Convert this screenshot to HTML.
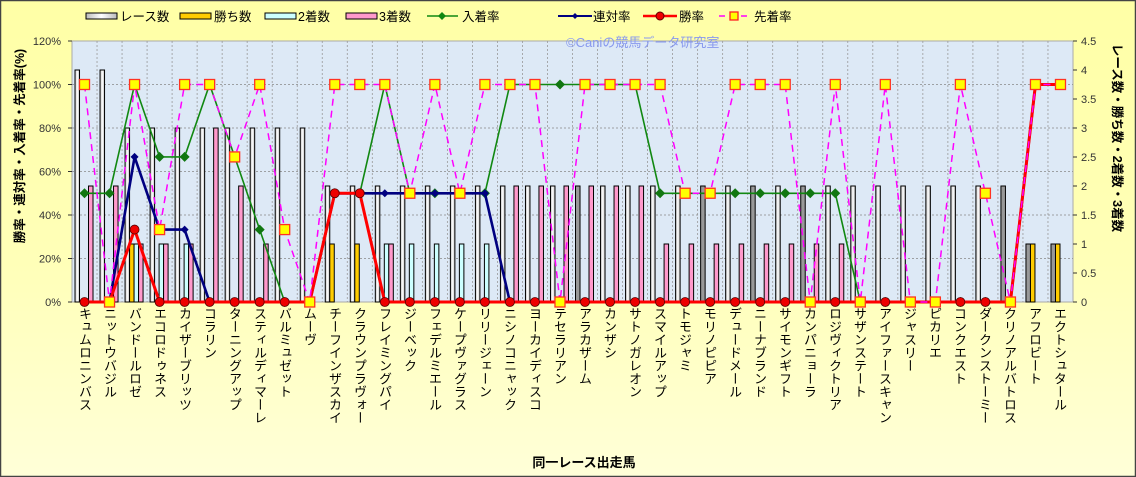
<!DOCTYPE html>
<html><head><meta charset="utf-8">
<style>
html,body{margin:0;padding:0}
body{width:1136px;height:477px;overflow:hidden;font-family:"Liberation Sans","Noto Sans CJK JP",sans-serif}
svg text{font-family:"Liberation Sans","Noto Sans CJK JP",sans-serif}
.xl{position:absolute;top:307px;width:16px;writing-mode:vertical-rl;text-orientation:upright;font-size:13px;line-height:16px;color:#000;font-family:"Liberation Sans","Noto Sans CJK JP",sans-serif}
</style></head>
<body>
<div style="position:relative;width:1136px;height:477px">
<svg id="s" width="1136" height="477" style="position:absolute;left:0;top:0">
<defs>
<linearGradient id="bg" x1="0" y1="0" x2="0" y2="1"><stop offset="0" stop-color="#ffffa6"/><stop offset="0.55" stop-color="#ffffb8"/><stop offset="1" stop-color="#ffffd8"/></linearGradient>
<linearGradient id="rb" x1="0" y1="0" x2="1" y2="0"><stop offset="0" stop-color="#bbb"/><stop offset="0.5" stop-color="#fff"/><stop offset="1" stop-color="#bbb"/></linearGradient>
</defs>
<rect x="0.5" y="0.5" width="1135" height="476" fill="url(#bg)" stroke="#444" stroke-width="1.5"/>
<rect x="72" y="41" width="1001" height="261" fill="#dde9f6" stroke="#aaa"/>
<g id="grid"></g>
<g id="bars"></g>
<g id="lines"></g>
<rect x="86" y="13" width="31" height="6" fill="url(#rb)" stroke="#000"/>
<text x="120" y="21" font-size="12.5">レース数</text>
<rect x="180" y="13" width="31" height="6" fill="#ffcc00" stroke="#000"/>
<text x="214" y="21" font-size="12.5">勝ち数</text>
<rect x="265" y="13" width="31" height="6" fill="#ccffff" stroke="#000"/>
<text x="298" y="21" font-size="12.5">2着数</text>
<rect x="346" y="13" width="31" height="6" fill="#ff99cc" stroke="#000"/>
<text x="379" y="21" font-size="12.5">3着数</text>
<line x1="427" y1="16" x2="458" y2="16" stroke="#118811" stroke-width="1.5"/>
<polygon points="442,12 446,16 442,20 438,16" fill="#118811"/>
<text x="462" y="21" font-size="12.5">入着率</text>
<line x1="558" y1="16" x2="592" y2="16" stroke="#000080" stroke-width="2"/>
<polygon points="575,13 578,16 575,19 572,16" fill="#000080"/>
<text x="593" y="21" font-size="12.5">連対率</text>
<line x1="643" y1="16" x2="677" y2="16" stroke="#ff0000" stroke-width="2.5"/>
<circle cx="660" cy="16" r="4" fill="#ee0000" stroke="#600" stroke-width="1"/>
<text x="679" y="21" font-size="12.5">勝率</text>
<line x1="719" y1="16" x2="752" y2="16" stroke="#ff00ff" stroke-width="1.5" stroke-dasharray="6,5"/>
<rect x="730" y="12" width="8" height="8" fill="#ffff00" stroke="#ff2222" stroke-width="1.3"/>
<text x="754" y="21" font-size="12.5">先着率</text>
<text x="566" y="47" font-size="13" fill="#8899ee">©Caniの競馬データ研究室</text>
<g id="ticks" font-size="11" fill="#333"></g>
<text transform="translate(24,146) rotate(-90)" text-anchor="middle" font-size="12.5" font-weight="bold">勝率・連対率・入着率・先着率(%)</text>
<text transform="translate(1113,138) rotate(90)" text-anchor="middle" font-size="12.5" font-weight="bold">レース数・勝ち数・2着数・3着数</text>
<text x="584" y="467" text-anchor="middle" font-size="13" font-weight="bold">同一レース出走馬</text>
</svg>
<div class="xl" style="left:76px">キュムロニンバス</div>
<div class="xl" style="left:101px">ニットウバジル</div>
<div class="xl" style="left:126px">バンドールロゼ</div>
<div class="xl" style="left:151px">エコロドゥネス</div>
<div class="xl" style="left:176px">カイザーブリッツ</div>
<div class="xl" style="left:201px">コラリン</div>
<div class="xl" style="left:226px">ターニングアップ</div>
<div class="xl" style="left:251px">スティルディマーレ</div>
<div class="xl" style="left:276px">バルミュゼット</div>
<div class="xl" style="left:301px">ムーヴ</div>
<div class="xl" style="left:326px">チーフインザスカイ</div>
<div class="xl" style="left:351px">クラウンプラヴォー</div>
<div class="xl" style="left:376px">フレイミングパイ</div>
<div class="xl" style="left:401px">ジーベック</div>
<div class="xl" style="left:426px">フェデルミエール</div>
<div class="xl" style="left:451px">ケープヴァグラス</div>
<div class="xl" style="left:476px">リリージェーン</div>
<div class="xl" style="left:501px">ニシノコニャック</div>
<div class="xl" style="left:526px">ヨーカイディスコ</div>
<div class="xl" style="left:551px">テセラリアン</div>
<div class="xl" style="left:576px">アラカザーム</div>
<div class="xl" style="left:601px">カンザシ</div>
<div class="xl" style="left:626px">サトノガレオン</div>
<div class="xl" style="left:651px">スマイルアップ</div>
<div class="xl" style="left:676px">トモジャミ</div>
<div class="xl" style="left:701px">モリノピピア</div>
<div class="xl" style="left:726px">デュードメール</div>
<div class="xl" style="left:751px">ニーナブランド</div>
<div class="xl" style="left:776px">サイモンギフト</div>
<div class="xl" style="left:801px">カンパニョーラ</div>
<div class="xl" style="left:826px">ロジヴィクトリア</div>
<div class="xl" style="left:851px">サザンステート</div>
<div class="xl" style="left:876px">アイファースキャン</div>
<div class="xl" style="left:901px">ジャスリー</div>
<div class="xl" style="left:926px">ピカリエ</div>
<div class="xl" style="left:951px">コンクエスト</div>
<div class="xl" style="left:976px">ダークンストーミー</div>
<div class="xl" style="left:1001px">クリノアルバトロス</div>
<div class="xl" style="left:1026px">アフロビート</div>
<div class="xl" style="left:1051px">エクトシュタール</div>
</div>
<script>
var NS="http://www.w3.org/2000/svg";
function el(p,t,a){var e=document.createElementNS(NS,t);for(var k in a)e.setAttribute(k,a[k]);document.getElementById(p).appendChild(e);return e;}
var L=72,W=1001/40,B=302,H=261;
function cx(i){return L+W*(i+0.5);}
function yp(p){return B-p/120*H;}
function yv(v){return B-v/4.5*H;}
for(var i=1;i<40;i++){el("grid","line",{x1:L+W*i,y1:41,x2:L+W*i,y2:302,stroke:"#999","stroke-width":0.8,"stroke-dasharray":"2,2"});}
for(var p=20;p<=100;p+=20){el("grid","line",{x1:72,y1:yp(p),x2:1073,y2:yp(p),stroke:"#888","stroke-width":0.8,"stroke-dasharray":"2,2"});}
for(var p=0;p<=120;p+=20){var t=el("ticks","text",{x:61,y:yp(p)+4,"text-anchor":"end"});t.textContent=p+"%";el("ticks","line",{x1:68,y1:yp(p),x2:72,y2:yp(p),stroke:"#333"});}
for(var v=0;v<=4.5;v+=0.5){var t=el("ticks","text",{x:1081,y:yv(v)+4});t.textContent=String(v);el("ticks","line",{x1:1073,y1:yv(v),x2:1077,y2:yv(v),stroke:"#333"});}
var race=[4,4,3,3,3,3,3,3,3,3,2,2,2,2,2,2,2,2,2,2,2,2,2,2,2,2,2,2,2,2,2,2,2,2,2,2,2,2,1,1];
var win=[];var sec=[];var thr=[];for(i=0;i<40;i++){win.push(0);sec.push(0);thr.push(0);}
win[2]=1;win[10]=1;win[11]=1;win[38]=1;win[39]=1;
[2,3,4,12,13,14,15,16].forEach(function(i){sec[i]=1;});
var tv={0:2,1:2,2:1,3:1,4:1,5:3,6:2,7:1,12:1,17:2,18:2,19:2,20:2,21:2,22:2};for(var k in tv)thr[k]=tv[k];
for(i=23;i<=30;i++)thr[i]=1;
var gray={20:1,25:1,27:1,29:1,37:1,38:1,39:1};
for(i=0;i<40;i++){var c=cx(i);
 function bar(x0,v,f){if(v>0)el("bars","rect",{x:x0,y:yv(v),width:4.5,height:B-yv(v),fill:f,stroke:"#000","stroke-width":1});}
 bar(c-9.5,race[i],gray[i]?"#999":"url(#rb)");bar(c-5,win[i],"#ffcc00");bar(c-0.5,sec[i],"#ccffff");bar(c+4,thr[i],"#ff99cc");}
var nyu=[50,50,100,66.7,66.7,100,66.7,33.3,0,0,50,50,100,50,50,50,50,100,100,100,100,100,100,50,50,50,50,50,50,50,50,0,0,0,0,0,0,0,100,100];
var ren=[0,0,66.7,33.3,33.3,0,0,0,0,0,50,50,50,50,50,50,50,0,0,0,0,0,0,0,0,0,0,0,0,0,0,0,0,0,0,0,0,0,100,100];
var sho=[0,0,33.3,0,0,0,0,0,0,0,50,50,0,0,0,0,0,0,0,0,0,0,0,0,0,0,0,0,0,0,0,0,0,0,0,0,0,0,100,100];
var sen=[100,0,100,33.3,100,100,66.7,100,33.3,0,100,100,100,50,100,50,100,100,100,0,100,100,100,100,50,50,100,100,100,0,100,0,100,0,0,100,50,0,100,100];
function pts(a){return a.map(function(v,i){return cx(i).toFixed(1)+","+yp(v).toFixed(1);}).join(" ");}
el("lines","polyline",{points:pts(nyu),fill:"none",stroke:"#118811","stroke-width":1.6});
nyu.forEach(function(v,i){var x=cx(i),y=yp(v);el("lines","polygon",{points:(x)+","+(y-5)+" "+(x+5)+","+y+" "+x+","+(y+5)+" "+(x-5)+","+y,fill:"#117711"});});
el("lines","polyline",{points:pts(ren),fill:"none",stroke:"#000080","stroke-width":2.6});
ren.forEach(function(v,i){var x=cx(i),y=yp(v);el("lines","polygon",{points:(x)+","+(y-4)+" "+(x+4)+","+y+" "+x+","+(y+4)+" "+(x-4)+","+y,fill:"#000080"});});
el("lines","polyline",{points:pts(sho),fill:"none",stroke:"#ff0000","stroke-width":3});
sho.forEach(function(v,i){el("lines","circle",{cx:cx(i),cy:yp(v),r:4.5,fill:"#ee0000",stroke:"#550000","stroke-width":0.8});});
el("lines","polyline",{points:pts(sen),fill:"none",stroke:"#ff00ff","stroke-width":1.5,"stroke-dasharray":"7,5"});
sen.forEach(function(v,i){el("lines","rect",{x:cx(i)-5,y:yp(v)-5,width:10,height:10,fill:"#ffff00",stroke:"#ff3322","stroke-width":1.3});});
</script>
</body></html>
